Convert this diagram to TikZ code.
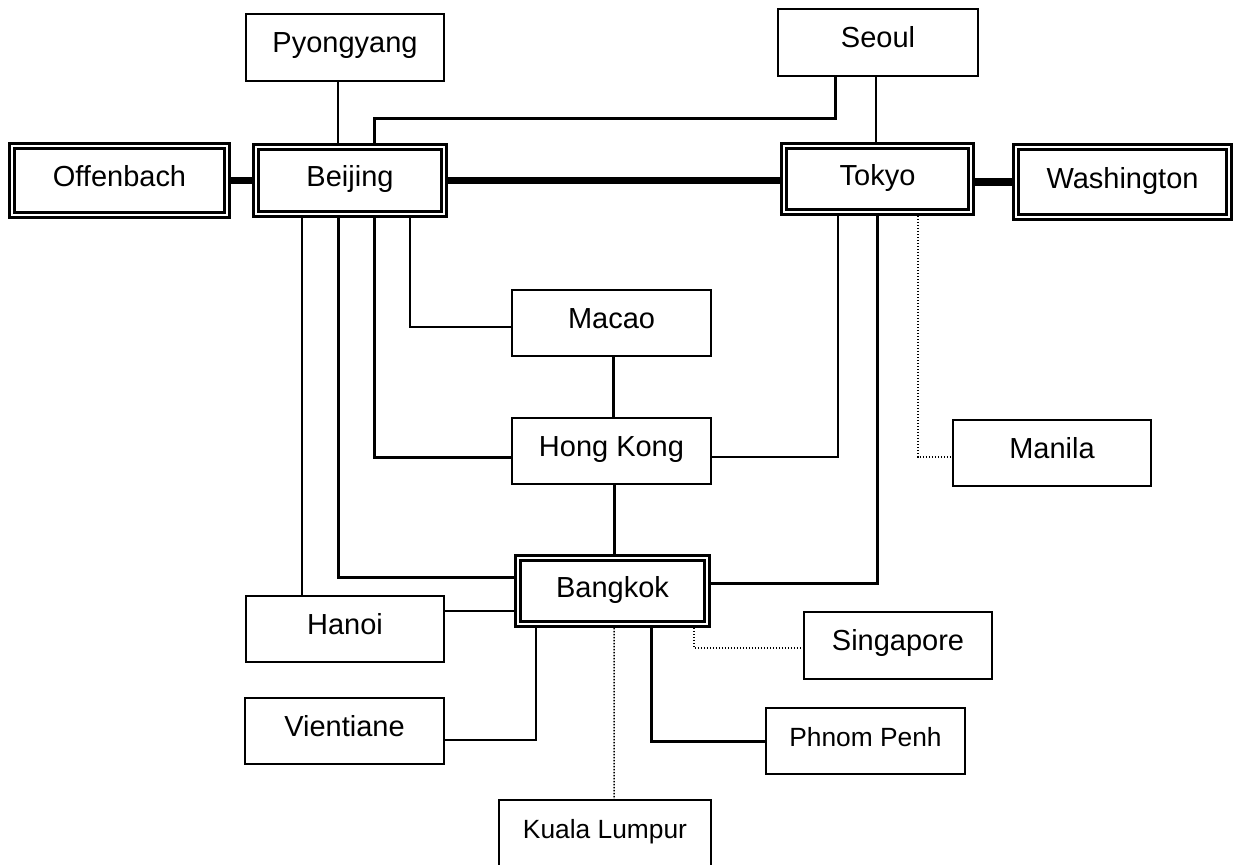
\documentclass[tikz,border=0pt]{standalone}
\usepackage{fontspec}
\setmainfont{Liberation Sans}
\usepackage{tikz}
\usetikzlibrary{positioning}

\begin{document}
\begin{tikzpicture}[
    x=0.02cm, y=-0.02cm,
    citybox/.style={draw,line width=0.04cm,inner sep=0pt,
      minimum width=3.98cm,minimum height=1.32cm,
      text height=0.42cm,text depth=0.22cm,font=\fontsize{16.5}{19}\selectfont},
    hubbox/.style={draw,double,double distance=0.05cm,line width=0.052cm,
      outer sep=0.077cm,inner sep=0pt,
      text height=0.42cm,text depth=0.16cm,font=\fontsize{16.5}{19}\selectfont},
    small/.style={font=\fontsize{15}{18}\selectfont},
    link/.style={line width=0.04cm},
    trunk/.style={line width=0.06cm},
    backbone/.style={line width=0.15cm},
    dotlink/.style={line width=0.03cm,dash pattern=on 0.03cm off 0.03cm}
    ]
    \useasboundingbox (0,0) rectangle (1234,865);
    \clip (0,0) rectangle (1234,865);

    \node[hubbox, minimum width=4.30cm, minimum height=1.38cm] (offen) at (119.5,180.5) {Offenbach};
    \node[hubbox, minimum width=3.76cm, minimum height=1.34cm] (beijing) at (350,180.5) {Beijing};
    \node[hubbox, minimum width=3.74cm, minimum height=1.32cm] (tokyo) at (877.5,179) {Tokyo};
    \node[hubbox, minimum width=4.26cm, minimum height=1.40cm] (wash) at (1122.5,182) {Washington};
    \node[hubbox, minimum width=3.78cm, minimum height=1.32cm] (bangkok) at (612.5,591) {Bangkok};

    \node[citybox, minimum width=3.96cm, minimum height=1.34cm] (pyong) at (345,47.5) {Pyongyang};
    \node[citybox, minimum width=4.00cm, minimum height=1.34cm] (seoul) at (878,42.5) {Seoul};
    \node[citybox] (macao) at (611.5,323) {Macao};
    \node[citybox] (hk) at (611.5,451) {Hong Kong};
    \node[citybox, minimum width=3.96cm] (manila) at (1052,453) {Manila};
    \node[citybox, minimum width=3.96cm] (hanoi) at (345,629) {Hanoi};
    \node[citybox, minimum width=3.76cm, minimum height=1.34cm] (sing) at (898,645.5) {Singapore};
    \node[citybox] (vient) at (344.5,731) {Vientiane};
    \node[citybox, small] (phnom) at (865.5,741) {Phnom Penh};
    \node[citybox, small, minimum width=4.24cm] (kuala) at (605,833) {Kuala Lumpur};

    % main circuits
    \draw[backbone] (offen.east) -- (beijing.west);
    \draw[backbone] (beijing.east) -- (beijing.east -| tokyo.west);
    \draw[backbone] (wash.west -| tokyo.east) -- (wash.west);

    \draw[link] ([shift={(-7,0)}]pyong.south) -- ([shift={(-12,0)}]beijing.north);
    \draw[trunk] ([shift={(-43,0)}]seoul.south) -- ++(0,42) -| ([shift={(24,0)}]beijing.north);
    \draw[link] ([shift={(-2,0)}]seoul.south) -- ([shift={(-1.5,0)}]tokyo.north);

    \draw[link] ([shift={(-48,0)}]beijing.south) -- ([shift={(-43,0)}]hanoi.north);
    \draw[trunk] ([shift={(-12,0)}]beijing.south) |- ([shift={(0,-14)}]bangkok.west);
    \draw[trunk] ([shift={(24,0)}]beijing.south) |- ([shift={(0,6)}]hk.west);
    \draw[link] ([shift={(60,0)}]beijing.south) |- ([shift={(0,4)}]macao.west);

    \draw[link] ([shift={(-39.5,0)}]tokyo.south) |- ([shift={(0,6)}]hk.east);
    \draw[trunk] ([shift={(-0.5,0)}]tokyo.south) |- ([shift={(0,-8)}]bangkok.east);
    \draw[dotlink] ([shift={(40.5,0)}]tokyo.south) |- ([shift={(0,4)}]manila.west);

    \draw[trunk] ([shift={(1.5,0)}]macao.south) -- ([shift={(1.5,0)}]hk.north);
    \draw[trunk] ([shift={(2.5,0)}]hk.south) -- ([shift={(1.5,0)}]bangkok.north);
    \draw[link] ([shift={(0,-18)}]hanoi.east) -- ([shift={(0,20)}]bangkok.west);

    \draw[link] ([shift={(-76.5,0)}]bangkok.south) |- ([shift={(0,9)}]vient.east);
    \draw[dotlink] ([shift={(1.5,0)}]bangkok.south) -- ([shift={(9,0)}]kuala.north);
    \draw[trunk] ([shift={(38.5,0)}]bangkok.south) |- (phnom.west);
    \draw[dotlink] ([shift={(81.5,0)}]bangkok.south) |- ([shift={(0,2.5)}]sing.west);

\end{tikzpicture}
\end{document}
